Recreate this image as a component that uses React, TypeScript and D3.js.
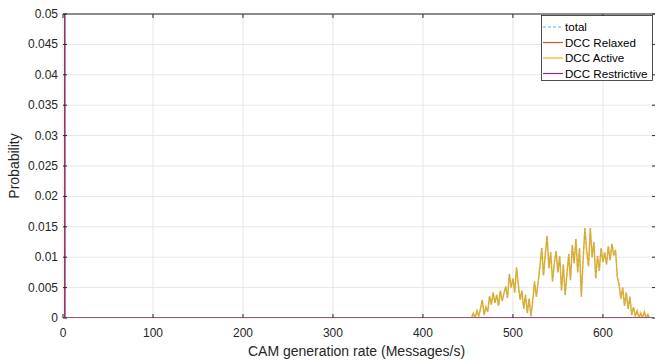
import React from "react";
import * as d3 from "d3";

// CAM generation rate (Messages/s) sampled every 2 units
const rateStep = 2;
const rateMax = 656;

// DCC Active, probability in thousandths, from rate 450 to 656
const activeStart = 450;
const activePerMille = [
  0, 0, 0, 0.8, 0, 1.2, 0.3, 1.5, 3.0, 0.5,
  1.8, 1.0, 3.6, 2.2, 4.2, 2.5, 3.8, 2.0, 4.5, 2.8,
  4.0, 5.2, 3.3, 7.2, 5.0, 6.5, 4.2, 8.3, 5.5, 3.0,
  4.5, 1.5, 3.8, 0.8, 3.2, 0.3, 2.8, 6.0, 3.5, 5.8,
  8.5, 11.5, 7.0, 10.5, 13.5, 8.2, 10.8, 6.0, 9.0, 11.0,
  7.5, 10.2, 4.5, 8.8, 3.8, 7.2, 10.5, 6.2, 12.0, 9.0,
  13.0, 7.5, 11.5, 3.5, 9.5, 14.8, 11.0, 8.5, 14.8, 10.0,
  12.5, 6.5, 10.2, 7.8, 11.5, 9.2, 10.8, 8.8, 11.8, 9.5,
  12.2, 10.3, 11.2, 6.8, 5.5, 3.2, 5.0, 2.0, 4.2, 1.5,
  3.5, 0.5, 1.8, 0.3, 1.2, 0, 0.8, 0, 1.0, 0,
  0.6, 0, 0, 0,
];

// DCC Relaxed / Restrictive: all mass at rate 0
const relaxedAtZero = 1;
const restrictiveAtZero = 1;

const yTicks = [0, 0.005, 0.01, 0.015, 0.02, 0.025, 0.03, 0.035, 0.04, 0.045, 0.05];
const xTicks = [0, 100, 200, 300, 400, 500, 600];

const legendNames = ["total", "DCC Relaxed", "DCC Active", "DCC Restrictive"];
const colors = ["#4DBEEE", "#D95319", "#EDB120", "#7E2F8E"];

const rates = d3.range(0, rateMax + 1, rateStep);
const active = rates.map((r) => {
  const i = (r - activeStart) / rateStep;
  return i >= 0 && i < activePerMille.length ? activePerMille[i] / 1000 : 0;
});
const relaxed = rates.map((r) => (r === 0 ? relaxedAtZero : 0));
const restrictive = rates.map((r) => (r === 0 ? restrictiveAtZero : 0));
const total = rates.map((_, i) => active[i]);

const W = 655;
const H = 360;
const m = { left: 63, top: 14, right: 656, bottom: 318 };

export default function App() {
  const x = d3.scaleLinear().domain([0, 659]).range([m.left, m.right]);
  const y = d3.scaleLinear().domain([0, 0.05]).range([m.bottom, m.top]);
  const line = d3
    .line<number>()
    .x((_, i) => x(rates[i]))
    .y((d) => y(d));

  const font = "'Liberation Sans', Arial, Helvetica, sans-serif";
  const axisColor = "#262626";

  return (
    <svg
      width={W}
      height={H}
      style={{ position: "absolute", left: 0, top: 0, background: "#fff" }}
      fontFamily={font}
    >
      <defs>
        <clipPath id="plot">
          <rect x={m.left} y={m.top} width={m.right - m.left} height={m.bottom - m.top} />
        </clipPath>
      </defs>
      <rect width={W} height={H} fill="#fff" />
      {/* grid */}
      {xTicks.map((t) => (
        <line key={"gx" + t} x1={x(t)} x2={x(t)} y1={m.top} y2={m.bottom} stroke="#e6e6e6" strokeWidth={1} />
      ))}
      {yTicks.map((t) => (
        <line key={"gy" + t} x1={m.left} x2={m.right} y1={y(t)} y2={y(t)} stroke="#e6e6e6" strokeWidth={1} />
      ))}

      {/* series: total drawn over active, restrictive last */}
      <g clipPath="url(#plot)" fill="none">
        <path d={line(relaxed) || ""} stroke={colors[1]} strokeWidth={1.4} />
        <path d={line(active) || ""} stroke={colors[2]} strokeWidth={1.5} />
        <path d={line(total) || ""} stroke="#8fa6a8" strokeWidth={0.8} strokeOpacity={0.6} strokeDasharray="3,2" />
        <path d={line(restrictive) || ""} stroke={colors[3]} strokeWidth={1.4} strokeOpacity={0.85} />
      </g>

      {/* axes box */}
      <line x1={m.left} x2={m.right} y1={m.top} y2={m.top} stroke={axisColor} strokeWidth={1} />
      <line x1={m.right} x2={m.right} y1={m.top} y2={m.bottom} stroke={axisColor} strokeWidth={1} />

      {/* ticks */}
      {xTicks.map((t) => (
        <g key={"tx" + t}>
          <line x1={x(t)} x2={x(t)} y1={m.bottom} y2={m.bottom - 4} stroke={axisColor} />
          <line x1={x(t)} x2={x(t)} y1={m.top} y2={m.top + 4} stroke={axisColor} />
          <text x={x(t)} y={337} textAnchor="middle" fontSize={12} fill={axisColor}>
            {t}
          </text>
        </g>
      ))}
      {yTicks.map((t) => (
        <g key={"ty" + t}>
          <line x1={m.left} x2={m.left + 4} y1={y(t)} y2={y(t)} stroke={axisColor} />
          <line x1={m.right} x2={m.right - 4} y1={y(t)} y2={y(t)} stroke={axisColor} />
          <text x={58} y={y(t) + 4} textAnchor="end" fontSize={12} fill={axisColor}>
            {String(+t.toFixed(3))}
          </text>
        </g>
      ))}

      {/* labels */}
      <text x={(m.left + m.right) / 2 - 3} y={356} textAnchor="middle" fontSize={14} fill={axisColor}>
        CAM generation rate (Messages/s)
      </text>
      <text
        transform={`translate(19,${(m.top + m.bottom) / 2}) rotate(-90)`}
        textAnchor="middle"
        fontSize={14}
        fill={axisColor}
      >
        Probability
      </text>

      {/* legend */}
      <g>
        <rect x={541.5} y={15.5} width={111} height={65} fill="#fff" stroke={axisColor} strokeWidth={0.8} />
        {legendNames.map((n, i) => {
          const ly = 27 + i * 15.5;
          return (
            <g key={n}>
              <line
                x1={543}
                x2={563}
                y1={ly}
                y2={ly}
                stroke={colors[i]}
                strokeWidth={1.2}
                strokeDasharray={i === 0 ? "3,2" : undefined}
              />
              <text x={565} y={ly + 4} fontSize={11.6} fill="#000">
                {n}
              </text>
            </g>
          );
        })}
      </g>
    </svg>
  );
}
